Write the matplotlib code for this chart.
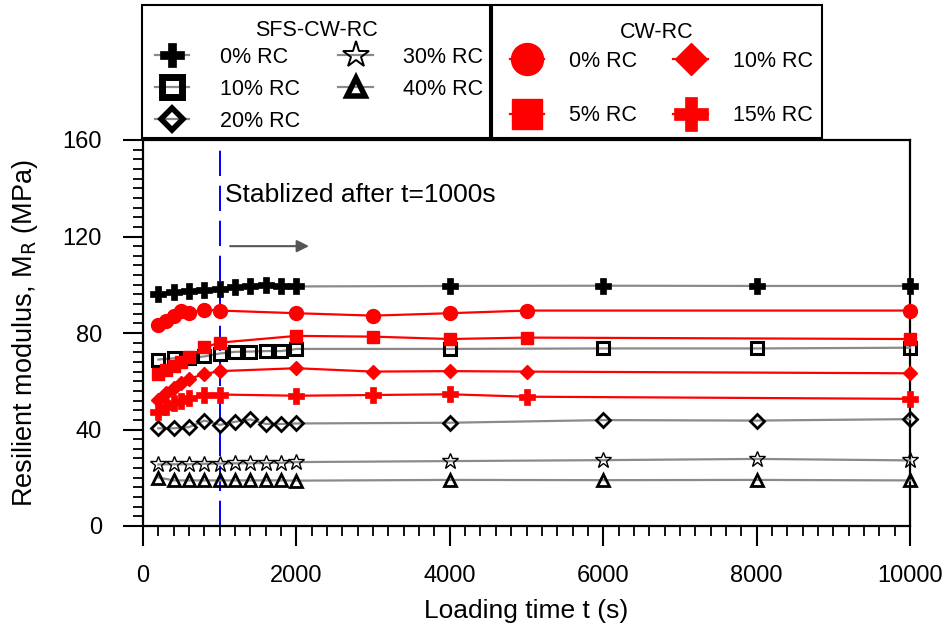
import matplotlib
matplotlib.use("Agg")
import matplotlib.pyplot as plt
from matplotlib.lines import Line2D
from matplotlib.patches import Rectangle
from matplotlib.ticker import MultipleLocator

plt.rcParams['font.family'] = ['Liberation Sans', 'DejaVu Sans']

# ---------------- data ----------------
t_sfs = [200, 400, 600, 800, 1000, 1200, 1400, 1600, 1800, 2000, 4000, 6000, 8000, 10000]
sfs_0 = [96.2, 97.0, 97.6, 98.0, 98.2, 99.2, 99.5, 99.8, 99.5, 99.3, 99.5, 99.6, 99.5, 99.5]
sfs_10 = [69.0, 69.5, 69.5, 70.3, 71.5, 72.2, 72.3, 72.5, 72.5, 73.4, 73.4, 73.6, 73.6, 73.9]
sfs_20 = [40.5, 40.5, 41.0, 43.7, 41.9, 43.2, 44.2, 42.3, 42.3, 42.5, 42.8, 43.9, 43.7, 44.3]
sfs_30 = [25.5, 25.6, 25.6, 25.8, 25.9, 26.0, 26.0, 26.1, 26.2, 26.5, 26.9, 27.3, 27.8, 27.2]
sfs_40 = [20.1, 18.9, 18.9, 18.9, 18.9, 18.9, 18.9, 18.9, 18.9, 18.8, 19.1, 19.0, 19.1, 18.9]

t_cw = [200, 300, 400, 500, 600, 800, 1000, 2000, 3000, 4000, 5000, 10000]
cw_0 = [83.3, 84.8, 87.0, 89.0, 88.4, 89.7, 89.3, 88.2, 87.2, 88.2, 89.3, 89.3]
cw_5 = [62.8, 64.8, 66.5, 68.0, 70.0, 74.0, 76.0, 78.8, 78.5, 77.5, 78.1, 77.5]
cw_10 = [52.2, 55.0, 57.2, 59.1, 61.0, 63.0, 64.2, 65.4, 64.0, 64.2, 64.0, 63.3]
cw_15 = [47.4, 49.5, 50.9, 51.7, 52.9, 54.2, 54.5, 54.0, 54.3, 54.6, 53.6, 52.7]

sfs_labels = ['0% RC', '10% RC', '20% RC', '30% RC', '40% RC']
cw_labels = ['0% RC', '5% RC', '10% RC', '15% RC']

x_ticks = [0, 2000, 4000, 6000, 8000, 10000]
y_ticks = [0, 40, 80, 120, 160]

# ---------------- figure ----------------
W, H = 950, 624
def fx(px):
    return px / W
def fy(py):
    return 1 - py / H

fig = plt.figure(figsize=(9.5, 6.24), dpi=100)
ax = fig.add_axes([fx(143), fy(526), (910 - 143) / W, (526 - 140) / H])

gray = '#8a8a8a'
red = '#ff0000'

sfs_styles = [
    dict(marker='P', ms=11, mfc='black', mec='black', mew=0.5),
    dict(marker='s', ms=8, mfc='none', mec='black', mew=2.2),
    dict(marker='D', ms=7, mfc='none', mec='black', mew=2.0),
    dict(marker='*', ms=12, mfc='none', mec='black', mew=1.0),
    dict(marker='^', ms=8.5, mfc='none', mec='black', mew=2.0),
]
cw_styles = [
    dict(marker='o', ms=10, mfc=red, mec=red),
    dict(marker='s', ms=8.5, mfc=red, mec=red),
    dict(marker='D', ms=7.5, mfc=red, mec=red),
    dict(marker='P', ms=11, mfc=red, mec=red, mew=0.5),
]

for ys, st in zip([sfs_0, sfs_10, sfs_20, sfs_30, sfs_40], sfs_styles):
    ax.plot(t_sfs, ys, color=gray, lw=1.6, clip_on=False, zorder=3, **st)
for ys, st in zip([cw_0, cw_5, cw_10, cw_15], cw_styles):
    ax.plot(t_cw, ys, color=red, lw=1.6, clip_on=False, zorder=3, **st)

ax.axvline(1000, color='#0000ff', lw=1.4, ls=(0, (13, 5)), zorder=2)
ax.text(1070, 134.4, 'Stablized after t=1000s', fontsize=19, va='baseline', ha='left')
ax.annotate('', xy=(2200, 116), xytext=(1100, 116),
            arrowprops=dict(arrowstyle='-|>', color='#555555', lw=1.5, mutation_scale=18))

ax.set_xlim(0, 10000)
ax.set_ylim(0, 160)
ax.set_xticks(x_ticks)
ax.set_yticks(y_ticks)
ax.xaxis.set_minor_locator(MultipleLocator(200))
ax.yaxis.set_minor_locator(MultipleLocator(4))
ax.tick_params(which='major', direction='out', length=14.5, width=1.5, labelsize=17)
ax.tick_params(axis='y', which='major', pad=15)
ax.tick_params(axis='x', which='major', pad=13.5)
ax.tick_params(which='minor', direction='out', length=7, width=1.3)
ax.tick_params(top=False, right=False)
for s in ax.spines.values():
    s.set_linewidth(1.6)

ax.set_xlabel('Loading time t (s)', fontsize=19, labelpad=9)
ax.set_ylabel('Resilient modulus, M$_\\mathrm{R}$ (MPa)', fontsize=19.5, labelpad=16)

# ---------------- legend boxes ----------------
for x0, x1 in [(142, 490), (492, 822)]:
    fig.add_artist(Rectangle((fx(x0), fy(138)), (x1 - x0) / W, (138 - 5) / H,
                             transform=fig.transFigure, facecolor='white',
                             edgecolor='black', lw=1.5, zorder=5))
fig.text(fx(316), fy(30), 'SFS-CW-RC', fontsize=15.5, ha='center', va='center', zorder=6)
fig.text(fx(657), fy(33), 'CW-RC', fontsize=15.5, ha='center', va='center', zorder=6)

sfs_leg_styles = [
    dict(marker='P', ms=17, mfc='black', mec='black', mew=0.5),
    dict(marker='s', ms=15, mfc='none', mec='black', mew=5),
    dict(marker='D', ms=11, mfc='none', mec='black', mew=4),
    dict(marker='*', ms=20, mfc='none', mec='black', mew=1.4),
    dict(marker='^', ms=13, mfc='none', mec='black', mew=4),
]
cw_leg_styles = [
    dict(marker='o', ms=23, mfc=red, mec=red),
    dict(marker='s', ms=21, mfc=red, mec=red),
    dict(marker='D', ms=16, mfc=red, mec=red),
    dict(marker='P', ms=24, mfc=red, mec=red, mew=0.5),
]
sfs_handles = [Line2D([], [], color=gray, lw=1.6, **st) for st in sfs_leg_styles]
cw_handles = [Line2D([], [], color=red, lw=1.6, **st) for st in cw_leg_styles]

leg1 = fig.legend(sfs_handles, sfs_labels, ncol=2, loc='upper left',
                  bbox_to_anchor=(fx(155), fy(47)), fontsize=15.5, frameon=False,
                  handlelength=1.6, handletextpad=1.4, columnspacing=1.8,
                  labelspacing=0.51, borderpad=0, borderaxespad=0)
leg1.set_zorder(7)
leg2 = fig.legend(cw_handles, cw_labels, ncol=2, loc='upper left',
                  bbox_to_anchor=(fx(510), fy(51)), fontsize=15.5, frameon=False,
                  handlelength=1.6, handletextpad=1.16, columnspacing=1.67,
                  labelspacing=1.55, borderpad=0, borderaxespad=0)
leg2.set_zorder(7)

fig.savefig('out.png', dpi=100)
